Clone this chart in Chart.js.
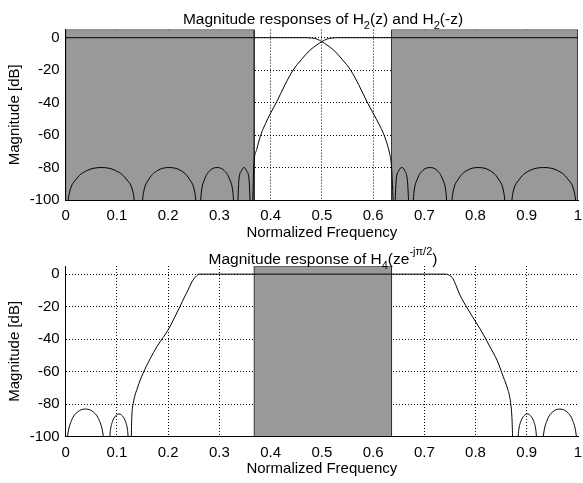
<!DOCTYPE html>
<html><head><meta charset="utf-8">
<script src="https://cdn.jsdelivr.net/npm/chart.js@4.4.0/dist/chart.umd.min.js"></script>
<style>
html,body{margin:0;padding:0;background:#fff;width:583px;height:483px;overflow:hidden}
.box{position:relative;width:583px}
</style></head><body>
<div class="box" style="height:240px"><canvas id="c1"></canvas></div>
<div class="box" style="height:243px"><canvas id="c2"></canvas></div>
<script>
// ---- tick labels ----
const xTicks = [0,0.1,0.2,0.3,0.4,0.5,0.6,0.7,0.8,0.9,1];
const xTickLabels = ['0','0.1','0.2','0.3','0.4','0.5','0.6','0.7','0.8','0.9','1'];
const yTicks = [-100,-80,-60,-40,-20,0];
const yTickLabels = ['-100','-80','-60','-40','-20','0'];
const yLimits = [-100, 5];

// ---- stopband regions (normalized frequency) ----
const topStopLeft = [0, 0.368];
const topStopRight = [0.636, 1];
const bottomStop = [0.368, 0.636];

// ---- H2(z) magnitude (dB); values below -100 fall off the axis at the nulls ----
const h2zFreq = [0,0.47,0.48,0.49,0.5,0.51,0.523,0.54,0.556,0.572,0.588,0.601,0.612,0.62,0.627,0.632,0.636,0.638,0.641,
  0.645,0.650,0.656,0.662,0.667,0.672,
  0.676,0.6795,0.6865,0.697,0.711,0.725,0.7355,0.7425,0.746,
  0.750,0.7555,0.7667,0.7833,0.8055,0.8277,0.8444,0.8555,0.861,
  0.866,0.8727,0.8861,0.9062,0.933,0.9598,0.9799,0.9933,1.0];
const h2zMag = [0,0,-0.2,-0.8,-2.4,-4.5,-7.6,-13.5,-19.9,-29,-39.4,-47,-53.5,-58.8,-65,-71,-79.4,-92,-112,
  -88,-82,-80,-82,-88,-112,
  -112,-96,-87,-81.8,-80,-81.8,-87,-96,-112,
  -112,-96,-87,-81.8,-80,-81.8,-87,-96,-112,
  -112,-96,-87,-81.8,-80,-81.8,-87,-96,-112];

// ---- H2(-z) magnitude (dB) ----
const h2mzFreq = [0,0.007,0.021,0.042,0.0695,0.097,0.118,0.132,0.139,
  0.146,0.1516,0.1628,0.1796,0.202,0.2244,0.2412,0.2524,0.258,
  0.261,0.2645,0.2714,0.2817,0.2955,0.3093,0.3196,0.3266,0.330,
  0.334,0.338,0.343,0.348,0.353,0.358,0.362,
  0.364,0.366,0.367,0.3727,0.382,0.39,0.399,0.412,0.428,0.444,0.46,0.477,0.49,0.5,0.51,0.52,0.53,1.0];
const h2mzMag = [-112,-96,-87,-81.8,-80,-81.8,-87,-96,-112,
  -112,-96,-87,-81.8,-80,-81.8,-87,-96,-112,
  -112,-96,-87,-81.8,-80,-81.8,-87,-96,-112,
  -112,-88,-82,-80,-82,-88,-112,
  -112,-90,-79.4,-69,-58.8,-53,-47,-39.4,-29,-19.9,-13.5,-7.6,-4.5,-2.4,-0.8,-0.2,0,0];

// ---- H4(z e^{-j pi/2}) magnitude (dB) ----
const h4Freq = [0,0.0039,0.0116,0.0231,0.0385,0.0539,0.0654,0.0731,0.077,
  0.083,0.0872,0.0914,0.0977,0.104,0.1103,0.1166,0.1208,0.125,
  0.127,0.129,0.132,0.14,0.151,0.165,0.178,0.19,0.2,0.212,0.223,0.232,0.239,0.245,0.25,0.255,0.26,
  0.743,0.749,0.756,0.762,0.769,0.785,0.802,0.815,0.828,0.842,0.854,0.862,0.868,0.871,0.874,
  0.880,0.8842,0.8884,0.8947,0.901,0.9073,0.9136,0.9178,0.922,
  0.929,0.9326,0.9397,0.9503,0.9645,0.9787,0.9894,0.9965,1.0];
const h4Mag = [-112,-99,-89.9,-84.8,-83,-84.8,-89.9,-99,-112,
  -112,-96.2,-90.6,-87.1,-86,-87.1,-90.6,-96.2,-112,
  -112,-88,-79.4,-70,-61,-52,-44.6,-39,-34.3,-27,-20,-14,-9.7,-5.5,-3,-1.2,0,
  0,-0.8,-2.8,-7,-12.5,-21.5,-30.2,-37,-44.6,-53,-63,-70,-78,-88,-112,
  -112,-96.2,-90.6,-87.1,-86,-87.1,-90.6,-96.2,-112,
  -112,-99,-89.9,-84.8,-83,-84.8,-89.9,-99,-112];

const FONT = 'Liberation Sans, Arial, Helvetica, sans-serif';
Chart.defaults.font.family = FONT;
Chart.defaults.font.size = 15;
Chart.defaults.color = '#000';

function pts(f, m) { return f.map((v, i) => ({x: v, y: m[i]})); }
function rect(r) {
  return [{x:r[0],y:yLimits[0]},{x:r[0],y:yLimits[1]},{x:r[1],y:yLimits[1]},{x:r[1],y:yLimits[0]}];
}
function curve(f, m) {
  return {data: pts(f, m), borderColor:'#000', borderWidth:1, pointRadius:0, fill:false,
          cubicInterpolationMode:'monotone', order:0};
}
function band(r) {
  return {data: rect(r), borderColor:'#333', borderWidth:1, backgroundColor:'#999999',
          pointRadius:0, fill:'start', tension:0, order:2};
}

const richTitle = {
  id: 'richTitle',
  afterDraw(chart, args, opts) {
    const ctx = chart.ctx;
    const segs = opts.segments;
    if (!segs) return;
    ctx.save();
    let total = 0;
    const widths = segs.map(s => {
      ctx.font = (s.k ? 11 : 15.5) + 'px ' + FONT;
      const w = ctx.measureText(s.t).width; total += w; return w;
    });
    let x = opts.cx - total / 2;
    ctx.fillStyle = '#000';
    ctx.textBaseline = 'alphabetic';
    ctx.textAlign = 'left';
    segs.forEach((s, i) => {
      ctx.font = (s.k ? 11 : 15.5) + 'px ' + FONT;
      const dy = s.k === 'sub' ? 5 : (s.k === 'sup' ? -9 : 0);
      ctx.fillText(s.t, x, opts.baseline + dy);
      x += widths[i];
    });
    ctx.restore();
  }
};

function makeOptions(padTop, padBottom, titleSegs) {
  return {
    responsive: true, maintainAspectRatio: false, animation: false,
    layout: {padding: {top: padTop, left: 0, right: 5, bottom: padBottom}, autoPadding: false},
    plugins: {
      legend: {display:false}, tooltip: {enabled:false}, title: {display:false},
      richTitle: {segments: titleSegs, baseline: 23.5, cx: 323}
    },
    scales: {
      x: {
        type: 'linear', min: 0, max: 1,
        afterBuildTicks: s => { s.ticks = xTicks.map(v => ({value: v})); },
        afterFit: s => { s.height = 40; s.paddingLeft = 0; s.paddingRight = 0; },
        ticks: {padding: 7, maxRotation: 0, autoSkip: false, callback: (v, i) => xTickLabels[i]},
        grid: {color: c => (c.tick && c.tick.value === 1) ? 'rgba(0,0,0,0)' : '#000', lineWidth: 1, drawTicks: false},
        border: {display: true, color: '#000', width: 1, dash: [1, 2], z: 1},
        title: {display: true, text: 'Normalized Frequency', font: {size: 15, lineHeight: 1}, padding: 0}
      },
      y: {
        type: 'linear', min: yLimits[0], max: yLimits[1],
        afterBuildTicks: s => { s.ticks = yTicks.map(v => ({value: v})); },
        afterFit: s => { s.width = 65.7; s.paddingTop = 0; s.paddingBottom = 0; },
        ticks: {padding: 6, autoSkip: false, callback: (v, i) => yTickLabels[i]},
        grid: {color: '#000', lineWidth: 1, drawTicks: false},
        border: {display: true, color: '#000', width: 1, dash: [1, 2], z: 1},
        title: {display: true, text: 'Magnitude [dB]', font: {size: 15}, padding: {top: 6, bottom: 0}}
      }
    }
  };
}

new Chart(document.getElementById('c1'), {
  type: 'line',
  data: {datasets: [curve(h2zFreq, h2zMag), curve(h2mzFreq, h2mzMag), band(topStopLeft), band(topStopRight)]},
  options: makeOptions(29.6, 0, [
    {t:'Magnitude responses of H'}, {t:'2', k:'sub'}, {t:'(z) and H'}, {t:'2', k:'sub'}, {t:'(-z)'}]),
  plugins: [richTitle]
});

new Chart(document.getElementById('c2'), {
  type: 'line',
  data: {datasets: [curve(h4Freq, h4Mag), band(bottomStop)]},
  options: makeOptions(26, 6.3, [
    {t:'Magnitude response of H'}, {t:'4', k:'sub'}, {t:'(ze'}, {t:'-j\u03C0/2', k:'sup'}, {t:')'}]),
  plugins: [richTitle]
});
</script>
</body></html>
